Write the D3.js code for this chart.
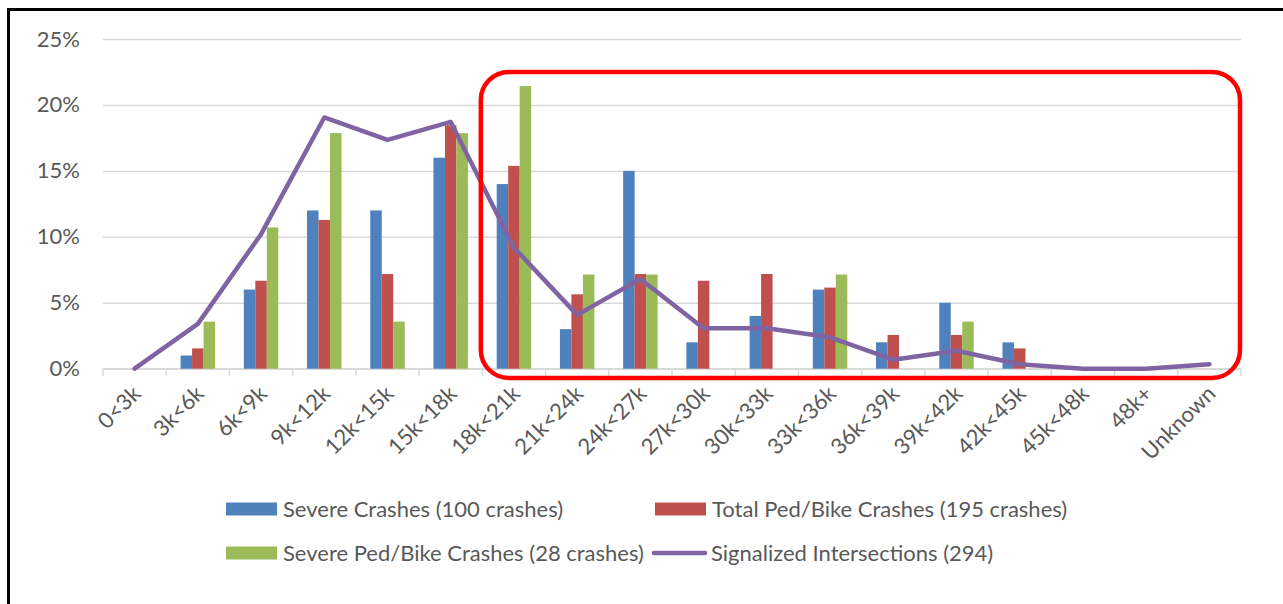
<!DOCTYPE html>
<html>
<head>
<meta charset="utf-8">
<script src="https://cdn.jsdelivr.net/npm/d3@7/dist/d3.min.js"></script>
<style>
  body { margin: 0; background: #fff; }
  text { font-family: Lato, "Open Sans", sans-serif; fill: #595959; }
</style>
</head>
<body>
<div id="chart"></div>
<script>
// income bands (x categories)
var categories = ["0<3k", "3k<6k", "6k<9k", "9k<12k", "12k<15k", "15k<18k", "18k<21k", "21k<24k",
  "24k<27k", "27k<30k", "30k<33k", "33k<36k", "36k<39k", "39k<42k", "42k<45k", "45k<48k", "48k+", "Unknown"];

// percent values
var severeCrashes = [0, 1, 6, 12, 12, 16, 14, 3, 15, 2, 4, 6, 2, 5, 2, 0, 0, 0];
var totalPedBike = [0, 1.54, 6.67, 11.28, 7.18, 18.46, 15.38, 5.64, 7.18, 6.67, 7.18, 6.15, 2.56, 2.56, 1.54, 0, 0, 0];
var severePedBike = [0, 3.57, 10.71, 17.86, 3.57, 17.86, 21.43, 7.14, 7.14, 0, 0, 7.14, 0, 3.57, 0, 0, 0, 0];
var signalized = [0, 3.40, 10.20, 19.05, 17.35, 18.71, 9.18, 4.08, 6.80, 3.06, 3.06, 2.38, 0.68, 1.36, 0.34, 0, 0, 0.34];

var yTicks = [0, 5, 10, 15, 20, 25];

var barSeries = [
  { name: "Severe Crashes (100 crashes)", values: severeCrashes, color: "#4f81bd" },
  { name: "Total Ped/Bike Crashes (195 crashes)", values: totalPedBike, color: "#c0504d" },
  { name: "Severe Ped/Bike Crashes (28 crashes)", values: severePedBike, color: "#9bbb59" }
];
var lineSeries = { name: "Signalized Intersections (294)", values: signalized, color: "#8064a2" };

var width = 1283, height = 604;
var margin = { top: 39, right: 42, bottom: 236, left: 103 };

var svg = d3.select("#chart").append("svg")
  .attr("width", width)
  .attr("height", height);

// outer black frame (runs off right/bottom edges)
svg.append("rect")
  .attr("x", 8.5).attr("y", 9.5)
  .attr("width", 1300).attr("height", 620)
  .attr("fill", "none")
  .attr("stroke", "#000")
  .attr("stroke-width", 3);

var x = d3.scaleBand()
  .domain(categories)
  .range([margin.left, width - margin.right])
  .padding(0);

var x1 = d3.scaleBand()
  .domain(d3.range(barSeries.length))
  .range([0, x.bandwidth()])
  .paddingInner(0)
  .paddingOuter(1.25);

var y = d3.scaleLinear()
  .domain([0, 25])
  .range([height - margin.bottom + 0.7, margin.top]);

// gridlines + y labels
var yAxis = d3.axisLeft(y)
  .tickValues(yTicks)
  .tickSize(-(width - margin.left - margin.right))
  .tickPadding(23)
  .tickFormat(d => d + "%");

var gy = svg.append("g")
  .attr("transform", `translate(${margin.left},0)`)
  .call(yAxis);
gy.select(".domain").remove();
gy.selectAll(".tick line").attr("stroke", "#d9d9d9").attr("stroke-width", 1.5);
gy.selectAll(".tick text").style("font-size", "22px").attr("fill", "#595959");

// x axis line with ticks between categories
var y0 = y(0);
svg.append("line")
  .attr("x1", x.range()[0]).attr("x2", x.range()[1])
  .attr("y1", y0).attr("y2", y0)
  .attr("stroke", "#d9d9d9").attr("stroke-width", 1.5);

svg.selectAll("line.xtick")
  .data(categories.concat([null]))
  .enter().append("line")
  .attr("class", "xtick")
  .attr("x1", (d, i) => i < categories.length ? x(d) : x.range()[1])
  .attr("x2", (d, i) => i < categories.length ? x(d) : x.range()[1])
  .attr("y1", y0).attr("y2", y0 + 7)
  .attr("stroke", "#d9d9d9").attr("stroke-width", 1.5);

svg.selectAll("text.xlabel")
  .data(categories)
  .enter().append("text")
  .attr("class", "xlabel")
  .attr("transform", d => `translate(${x(d) + x.bandwidth() / 2 + 2},${y0 + 21}) rotate(-45)`)
  .attr("text-anchor", "end")
  .attr("dy", "0.35em")
  .style("font-size", "22px")
  .text(d => d);

// bars
barSeries.forEach(function (s, si) {
  svg.append("g").selectAll("rect")
    .data(s.values)
    .enter().append("rect")
    .attr("x", (d, i) => x(categories[i]) + x1(si))
    .attr("width", x1.bandwidth())
    .attr("y", d => y(d))
    .attr("height", d => y0 - y(d))
    .attr("fill", s.color);
});

// line
var line = d3.line()
  .x((d, i) => x(categories[i]) + x.bandwidth() / 2)
  .y(d => y(d));

svg.append("path")
  .datum(lineSeries.values)
  .attr("d", line)
  .attr("fill", "none")
  .attr("stroke", lineSeries.color)
  .attr("stroke-width", 4.5)
  .attr("stroke-linejoin", "round")
  .attr("stroke-linecap", "round");

// red highlight box
var boxX0 = x("18k<21k") - 1.5;
var boxX1 = x.range()[1] - 1;
svg.append("rect")
  .attr("x", boxX0)
  .attr("y", y(22.5))
  .attr("width", boxX1 - boxX0)
  .attr("height", y(-0.7) - y(22.5))
  .attr("rx", 28).attr("ry", 28)
  .attr("fill", "none")
  .attr("stroke", "#ff0000")
  .attr("stroke-width", 4.5);

// legend
var legendItems = [
  { name: barSeries[0].name, color: barSeries[0].color, type: "bar", lx: 226, ly: 509 },
  { name: barSeries[1].name, color: barSeries[1].color, type: "bar", lx: 655, ly: 509 },
  { name: barSeries[2].name, color: barSeries[2].color, type: "bar", lx: 226, ly: 553 },
  { name: lineSeries.name, color: lineSeries.color, type: "line", lx: 652, ly: 553 }
];

var leg = svg.append("g").selectAll("g")
  .data(legendItems)
  .enter().append("g")
  .attr("transform", d => `translate(${d.lx},${d.ly})`);

leg.filter(d => d.type === "bar").append("rect")
  .attr("x", 0).attr("y", -6.5)
  .attr("width", 51).attr("height", 13)
  .attr("fill", d => d.color);

leg.filter(d => d.type === "line").append("line")
  .attr("x1", 2).attr("x2", 53)
  .attr("y1", 0).attr("y2", 0)
  .attr("stroke", d => d.color)
  .attr("stroke-width", 4.5)
  .attr("stroke-linecap", "round");

leg.append("text")
  .attr("x", d => d.type === "bar" ? 57 : 59)
  .attr("y", 0)
  .attr("dy", "0.35em")
  .style("font-size", "22px")
  .text(d => d.name);
</script>
</body>
</html>
